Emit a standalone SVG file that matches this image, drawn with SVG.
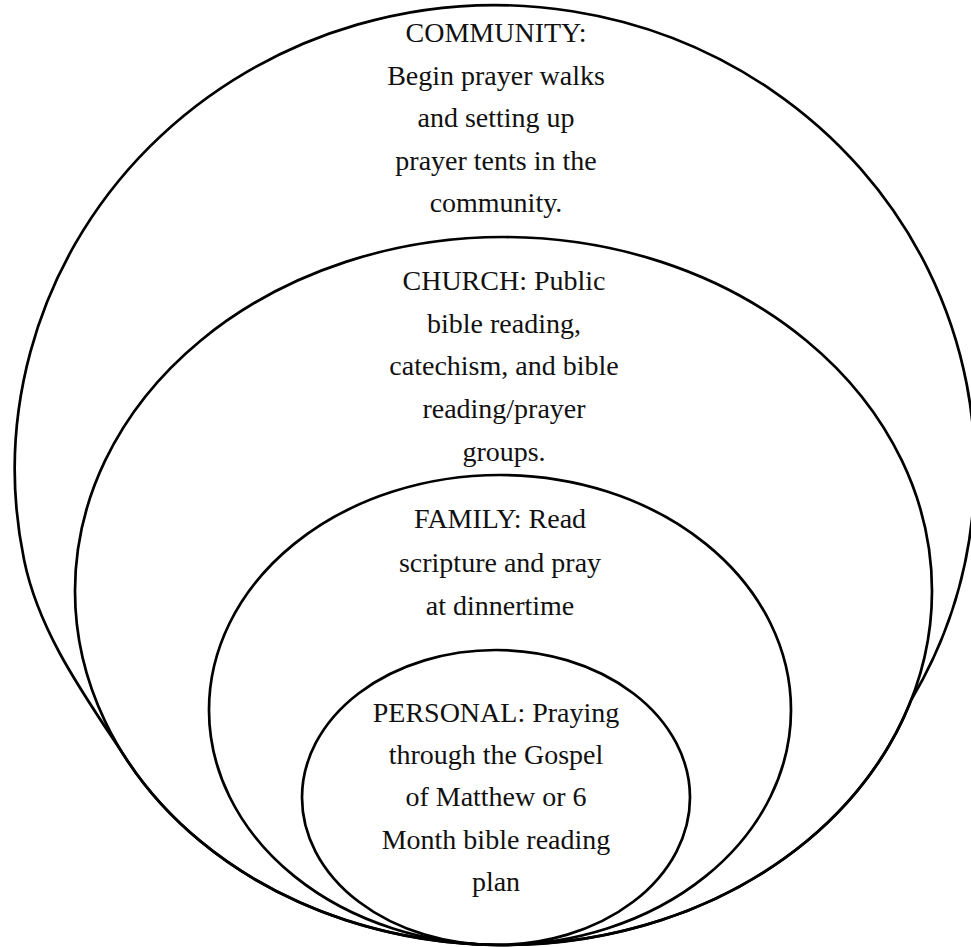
<svg xmlns="http://www.w3.org/2000/svg" width="971" height="947" viewBox="0 0 971 947">
<style>
.ring{fill:none;stroke:#000;stroke-width:2.7}
.lbl{font-family:"Liberation Serif","Times New Roman",serif;font-size:28px;fill:#111;text-anchor:middle}
</style>
<rect width="971" height="947" fill="#fff"/>
<g id="community">
<path class="ring" d="M 911.2 700 A 480 464 0 1 0 24.1 560 C 39.1 633.5 85.8 697.3 127 760 A 428.5 354 0 0 0 911.2 700 Z"/>
<text class="lbl"><tspan x="496" y="42">COMMUNITY:</tspan><tspan x="496" y="84.5">Begin prayer walks</tspan><tspan x="496" y="127">and setting up</tspan><tspan x="496" y="169.5">prayer tents in the</tspan><tspan x="496" y="212">community.</tspan></text>
</g>
<g id="church">
<ellipse class="ring" cx="503.5" cy="591" rx="428.5" ry="354"/>
<text class="lbl"><tspan x="504" y="290">CHURCH: Public</tspan><tspan x="504" y="332.5">bible reading,</tspan><tspan x="504" y="375">catechism, and bible</tspan><tspan x="504" y="418">reading/prayer</tspan><tspan x="504" y="461">groups.</tspan></text>
</g>
<g id="family">
<ellipse class="ring" cx="500" cy="710" rx="291" ry="235"/>
<text class="lbl"><tspan x="500" y="528">FAMILY: Read</tspan><tspan x="500" y="571.5">scripture and pray</tspan><tspan x="500" y="615">at dinnertime</tspan></text>
</g>
<g id="personal">
<ellipse class="ring" cx="496" cy="797.5" rx="194" ry="147.5"/>
<text class="lbl"><tspan x="496" y="722">PERSONAL: Praying</tspan><tspan x="496" y="764">through the Gospel</tspan><tspan x="496" y="806">of Matthew or 6</tspan><tspan x="496" y="848.5">Month bible reading</tspan><tspan x="496" y="890.5">plan</tspan></text>
</g>
</svg>
